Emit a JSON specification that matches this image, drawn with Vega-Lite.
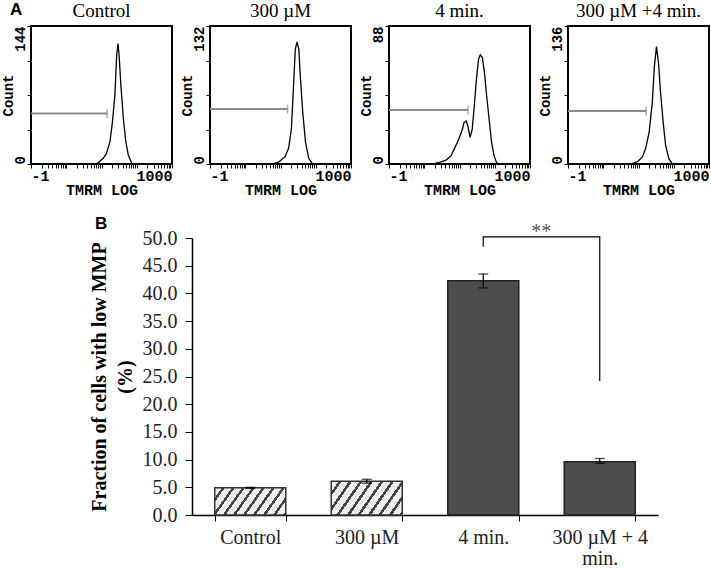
{
  "$schema": "https://vega.github.io/schema/vega-lite/v6.json",
  "background": "white",
  "padding": {"left": 0, "top": 0, "right": 0, "bottom": 0},
  "title": {"text": "A", "anchor": "start", "frame": "bounds", "offset": -18, "dx": 10, "font": "Liberation Sans", "fontSize": 17, "fontWeight": "bold", "color": "black"},
  "config": {"view": {"stroke": "black", "strokeWidth": 2}},
  "datasets": {
    "hist": [
      {"panel": "Control", "logFL": 1.86, "count": 0}, {"panel": "Control", "logFL": 2.05, "count": 5.9}, {"panel": "Control", "logFL": 2.14, "count": 11}, {"panel": "Control", "logFL": 2.24, "count": 23}, {"panel": "Control", "logFL": 2.31, "count": 44}, {"panel": "Control", "logFL": 2.38, "count": 72}, {"panel": "Control", "logFL": 2.43, "count": 113}, {"panel": "Control", "logFL": 2.47, "count": 125.6}, {"panel": "Control", "logFL": 2.5, "count": 113}, {"panel": "Control", "logFL": 2.55, "count": 82}, {"panel": "Control", "logFL": 2.62, "count": 47.5}, {"panel": "Control", "logFL": 2.69, "count": 23}, {"panel": "Control", "logFL": 2.76, "count": 9.4}, {"panel": "Control", "logFL": 2.86, "count": 0.7}, {"panel": "Control", "logFL": 3.0, "count": 0},
      {"panel": "300 µM", "logFL": 1.75, "count": 0}, {"panel": "300 µM", "logFL": 1.94, "count": 1.6}, {"panel": "300 µM", "logFL": 2.13, "count": 7}, {"panel": "300 µM", "logFL": 2.23, "count": 15}, {"panel": "300 µM", "logFL": 2.31, "count": 34}, {"panel": "300 µM", "logFL": 2.37, "count": 75}, {"panel": "300 µM", "logFL": 2.42, "count": 110}, {"panel": "300 µM", "logFL": 2.47, "count": 116.7}, {"panel": "300 µM", "logFL": 2.52, "count": 110}, {"panel": "300 µM", "logFL": 2.56, "count": 85}, {"panel": "300 µM", "logFL": 2.63, "count": 50}, {"panel": "300 µM", "logFL": 2.71, "count": 21}, {"panel": "300 µM", "logFL": 2.8, "count": 5.4}, {"panel": "300 µM", "logFL": 2.9, "count": 0.6}, {"panel": "300 µM", "logFL": 3.0, "count": 0},
      {"panel": "4 min.", "logFL": 1.25, "count": 0}, {"panel": "4 min.", "logFL": 1.43, "count": 1}, {"panel": "4 min.", "logFL": 1.62, "count": 2.5}, {"panel": "4 min.", "logFL": 1.76, "count": 5.3}, {"panel": "4 min.", "logFL": 1.85, "count": 9.5}, {"panel": "4 min.", "logFL": 1.94, "count": 13.8}, {"panel": "4 min.", "logFL": 2.0, "count": 17}, {"panel": "4 min.", "logFL": 2.08, "count": 22}, {"panel": "4 min.", "logFL": 2.13, "count": 26.5}, {"panel": "4 min.", "logFL": 2.19, "count": 27.4}, {"panel": "4 min.", "logFL": 2.24, "count": 24}, {"panel": "4 min.", "logFL": 2.3, "count": 17}, {"panel": "4 min.", "logFL": 2.36, "count": 22}, {"panel": "4 min.", "logFL": 2.42, "count": 37}, {"panel": "4 min.", "logFL": 2.48, "count": 54}, {"panel": "4 min.", "logFL": 2.54, "count": 67}, {"panel": "4 min.", "logFL": 2.59, "count": 69.6}, {"panel": "4 min.", "logFL": 2.65, "count": 67.9}, {"panel": "4 min.", "logFL": 2.71, "count": 58}, {"panel": "4 min.", "logFL": 2.77, "count": 43.5}, {"panel": "4 min.", "logFL": 2.84, "count": 28.6}, {"panel": "4 min.", "logFL": 2.91, "count": 13.8}, {"panel": "4 min.", "logFL": 2.98, "count": 5.3}, {"panel": "4 min.", "logFL": 3.05, "count": 1}, {"panel": "4 min.", "logFL": 3.11, "count": 0},
      {"panel": "300 µM +4 min.", "logFL": 1.78, "count": 0}, {"panel": "300 µM +4 min.", "logFL": 1.97, "count": 2.3}, {"panel": "300 µM +4 min.", "logFL": 2.11, "count": 7}, {"panel": "300 µM +4 min.", "logFL": 2.2, "count": 15}, {"panel": "300 µM +4 min.", "logFL": 2.3, "count": 31}, {"panel": "300 µM +4 min.", "logFL": 2.39, "count": 60}, {"panel": "300 µM +4 min.", "logFL": 2.45, "count": 96}, {"panel": "300 µM +4 min.", "logFL": 2.51, "count": 115.7}, {"panel": "300 µM +4 min.", "logFL": 2.57, "count": 99}, {"panel": "300 µM +4 min.", "logFL": 2.62, "count": 73}, {"panel": "300 µM +4 min.", "logFL": 2.7, "count": 41}, {"panel": "300 µM +4 min.", "logFL": 2.77, "count": 18}, {"panel": "300 µM +4 min.", "logFL": 2.86, "count": 5.5}, {"panel": "300 µM +4 min.", "logFL": 2.95, "count": 0.6}, {"panel": "300 µM +4 min.", "logFL": 3.04, "count": 0}
    ],
    "gates": [
      {"panel": "Control", "logFL": 0, "end": 2.16, "count": 52.7},
      {"panel": "300 µM", "logFL": 0, "end": 2.2, "count": 52.5},
      {"panel": "4 min.", "logFL": 0, "end": 2.24, "count": 34.4},
      {"panel": "300 µM +4 min.", "logFL": 0, "end": 2.22, "count": 52.2}
    ],
    "gateEnds": [
      {"panel": "Control", "logFL": 2.16, "count": 52.7},
      {"panel": "300 µM", "logFL": 2.2, "count": 52.5},
      {"panel": "4 min.", "logFL": 2.24, "count": 34.4},
      {"panel": "300 µM +4 min.", "logFL": 2.22, "count": 52.2}
    ],
    "bars": [
      {"group": "Control", "pct": 4.9},
      {"group": "300 µM", "pct": 6.1},
      {"group": "4 min.", "pct": 42.3},
      {"group": "300 µM + 4 min.", "pct": 9.6}
    ],
    "errors": [
      {"group": "Control", "pct": 4.8, "hi": 5.0},
      {"group": "300 µM", "pct": 5.75, "hi": 6.45},
      {"group": "4 min.", "pct": 41.0, "hi": 43.5},
      {"group": "300 µM + 4 min.", "pct": 9.3, "hi": 10.2}
    ],
    "caps": [
      {"group": "Control", "pct": 4.8}, {"group": "Control", "pct": 5.0},
      {"group": "300 µM", "pct": 5.75}, {"group": "300 µM", "pct": 6.45},
      {"group": "4 min.", "pct": 41.0}, {"group": "4 min.", "pct": 43.5},
      {"group": "300 µM + 4 min.", "pct": 9.3}, {"group": "300 µM + 4 min.", "pct": 10.2}
    ],
    "bracket": [
      {"group": "4 min.", "pct": 48.4, "step": 1},
      {"group": "4 min.", "pct": 50.2, "step": 2},
      {"group": "300 µM + 4 min.", "pct": 50.2, "step": 3},
      {"group": "300 µM + 4 min.", "pct": 24.2, "step": 4}
    ],
    "sig": [{"group": "4 min.", "pct": 50.0, "label": "**"}]
  },
  "vconcat": [
    {
      "hconcat": [
        {
          "width": 141, "height": 138,
          "title": {"text": "Control", "font": "Liberation Serif", "fontSize": 19, "fontWeight": "normal", "color": "black", "offset": 5},
          "encoding": {
            "x": {"field": "logFL", "type": "quantitative", "scale": {"domain": [0, 4], "nice": false},
              "axis": {"title": "TMRM LOG", "domain": false, "values": [0,0.301,0.477,0.602,0.699,0.778,0.845,0.903,0.954,1,1.301,1.477,1.602,1.699,1.778,1.845,1.903,1.954,2,2.301,2.477,2.602,2.699,2.778,2.845,2.903,2.954,3,3.301,3.477,3.602,3.699,3.778,3.845,3.903,3.954,4], "labelExpr": "datum.value == 0 ? '-1' : datum.value == 4 ? '1000' : ''", "labelFlush": true, "labelOverlap": false, "labelAngle": 0, "labelFont": "Liberation Mono", "labelFontWeight": "bold", "labelFontSize": 15, "labelColor": "black", "labelPadding": 0, "tickSize": 4, "tickColor": "black", "grid": false, "titleFont": "Liberation Mono", "titleFontWeight": "bold", "titleFontSize": 15, "titleColor": "black", "titlePadding": -1}},
            "y": {"field": "count", "type": "quantitative", "scale": {"domain": [0, 144], "nice": false},
              "axis": {"title": "Count", "domain": false, "values": [0, 36, 72, 108, 144], "labelExpr": "datum.value == 0 || datum.value == 144 ? datum.label : ''", "labelOverlap": false, "labelAngle": 270, "labelAlign": {"condition": {"test": "datum.value == 0", "value": "left"}, "value": "right"}, "labelBaseline": "bottom", "labelFont": "Liberation Mono", "labelFontWeight": "bold", "labelFontSize": 14, "labelColor": "black", "labelPadding": 0, "tickSize": 4, "tickColor": "black", "grid": false, "titleFont": "Liberation Mono", "titleFontWeight": "bold", "titleFontSize": 14, "titleColor": "black", "titlePadding": -2}}
          },
          "layer": [
            {"data": {"name": "hist"}, "transform": [{"filter": "datum.panel == 'Control'"}], "mark": {"type": "line", "color": "black", "strokeWidth": 1.3}},
            {"data": {"name": "gates"}, "transform": [{"filter": "datum.panel == 'Control'"}], "mark": {"type": "rule", "color": "#8a8a8a", "strokeWidth": 2}, "encoding": {"x2": {"field": "end"}}},
            {"data": {"name": "gateEnds"}, "transform": [{"filter": "datum.panel == 'Control'"}], "mark": {"type": "tick", "orient": "vertical", "color": "#8a8a8a", "size": 9, "thickness": 1.5}}
          ]
        },
        {
          "width": 141, "height": 138,
          "title": {"text": "300 µM", "font": "Liberation Serif", "fontSize": 19, "fontWeight": "normal", "color": "black", "offset": 5},
          "encoding": {
            "x": {"field": "logFL", "type": "quantitative", "scale": {"domain": [0, 4], "nice": false},
              "axis": {"title": "TMRM LOG", "domain": false, "values": [0,0.301,0.477,0.602,0.699,0.778,0.845,0.903,0.954,1,1.301,1.477,1.602,1.699,1.778,1.845,1.903,1.954,2,2.301,2.477,2.602,2.699,2.778,2.845,2.903,2.954,3,3.301,3.477,3.602,3.699,3.778,3.845,3.903,3.954,4], "labelExpr": "datum.value == 0 ? '-1' : datum.value == 4 ? '1000' : ''", "labelFlush": true, "labelOverlap": false, "labelAngle": 0, "labelFont": "Liberation Mono", "labelFontWeight": "bold", "labelFontSize": 15, "labelColor": "black", "labelPadding": 0, "tickSize": 4, "tickColor": "black", "grid": false, "titleFont": "Liberation Mono", "titleFontWeight": "bold", "titleFontSize": 15, "titleColor": "black", "titlePadding": -1}},
            "y": {"field": "count", "type": "quantitative", "scale": {"domain": [0, 132], "nice": false},
              "axis": {"title": "Count", "domain": false, "values": [0, 33, 66, 99, 132], "labelExpr": "datum.value == 0 || datum.value == 132 ? datum.label : ''", "labelOverlap": false, "labelAngle": 270, "labelAlign": {"condition": {"test": "datum.value == 0", "value": "left"}, "value": "right"}, "labelBaseline": "bottom", "labelFont": "Liberation Mono", "labelFontWeight": "bold", "labelFontSize": 14, "labelColor": "black", "labelPadding": 0, "tickSize": 4, "tickColor": "black", "grid": false, "titleFont": "Liberation Mono", "titleFontWeight": "bold", "titleFontSize": 14, "titleColor": "black", "titlePadding": -2}}
          },
          "layer": [
            {"data": {"name": "hist"}, "transform": [{"filter": "datum.panel == '300 µM'"}], "mark": {"type": "line", "color": "black", "strokeWidth": 1.3}},
            {"data": {"name": "gates"}, "transform": [{"filter": "datum.panel == '300 µM'"}], "mark": {"type": "rule", "color": "#8a8a8a", "strokeWidth": 2}, "encoding": {"x2": {"field": "end"}}},
            {"data": {"name": "gateEnds"}, "transform": [{"filter": "datum.panel == '300 µM'"}], "mark": {"type": "tick", "orient": "vertical", "color": "#8a8a8a", "size": 9, "thickness": 1.5}}
          ]
        },
        {
          "width": 141, "height": 138,
          "title": {"text": "4 min.", "font": "Liberation Serif", "fontSize": 19, "fontWeight": "normal", "color": "black", "offset": 5},
          "encoding": {
            "x": {"field": "logFL", "type": "quantitative", "scale": {"domain": [0, 4], "nice": false},
              "axis": {"title": "TMRM LOG", "domain": false, "values": [0,0.301,0.477,0.602,0.699,0.778,0.845,0.903,0.954,1,1.301,1.477,1.602,1.699,1.778,1.845,1.903,1.954,2,2.301,2.477,2.602,2.699,2.778,2.845,2.903,2.954,3,3.301,3.477,3.602,3.699,3.778,3.845,3.903,3.954,4], "labelExpr": "datum.value == 0 ? '-1' : datum.value == 4 ? '1000' : ''", "labelFlush": true, "labelOverlap": false, "labelAngle": 0, "labelFont": "Liberation Mono", "labelFontWeight": "bold", "labelFontSize": 15, "labelColor": "black", "labelPadding": 0, "tickSize": 4, "tickColor": "black", "grid": false, "titleFont": "Liberation Mono", "titleFontWeight": "bold", "titleFontSize": 15, "titleColor": "black", "titlePadding": -1}},
            "y": {"field": "count", "type": "quantitative", "scale": {"domain": [0, 88], "nice": false},
              "axis": {"title": "Count", "domain": false, "values": [0, 22, 44, 66, 88], "labelExpr": "datum.value == 0 || datum.value == 88 ? datum.label : ''", "labelOverlap": false, "labelAngle": 270, "labelAlign": {"condition": {"test": "datum.value == 0", "value": "left"}, "value": "right"}, "labelBaseline": "bottom", "labelFont": "Liberation Mono", "labelFontWeight": "bold", "labelFontSize": 14, "labelColor": "black", "labelPadding": 0, "tickSize": 4, "tickColor": "black", "grid": false, "titleFont": "Liberation Mono", "titleFontWeight": "bold", "titleFontSize": 14, "titleColor": "black", "titlePadding": -2}}
          },
          "layer": [
            {"data": {"name": "hist"}, "transform": [{"filter": "datum.panel == '4 min.'"}], "mark": {"type": "line", "color": "black", "strokeWidth": 1.3}},
            {"data": {"name": "gates"}, "transform": [{"filter": "datum.panel == '4 min.'"}], "mark": {"type": "rule", "color": "#8a8a8a", "strokeWidth": 2}, "encoding": {"x2": {"field": "end"}}},
            {"data": {"name": "gateEnds"}, "transform": [{"filter": "datum.panel == '4 min.'"}], "mark": {"type": "tick", "orient": "vertical", "color": "#8a8a8a", "size": 9, "thickness": 1.5}}
          ]
        },
        {
          "width": 141, "height": 138,
          "title": {"text": "300 µM +4 min.", "font": "Liberation Serif", "fontSize": 19, "fontWeight": "normal", "color": "black", "offset": 5},
          "encoding": {
            "x": {"field": "logFL", "type": "quantitative", "scale": {"domain": [0, 4], "nice": false},
              "axis": {"title": "TMRM LOG", "domain": false, "values": [0,0.301,0.477,0.602,0.699,0.778,0.845,0.903,0.954,1,1.301,1.477,1.602,1.699,1.778,1.845,1.903,1.954,2,2.301,2.477,2.602,2.699,2.778,2.845,2.903,2.954,3,3.301,3.477,3.602,3.699,3.778,3.845,3.903,3.954,4], "labelExpr": "datum.value == 0 ? '-1' : datum.value == 4 ? '1000' : ''", "labelFlush": true, "labelOverlap": false, "labelAngle": 0, "labelFont": "Liberation Mono", "labelFontWeight": "bold", "labelFontSize": 15, "labelColor": "black", "labelPadding": 0, "tickSize": 4, "tickColor": "black", "grid": false, "titleFont": "Liberation Mono", "titleFontWeight": "bold", "titleFontSize": 15, "titleColor": "black", "titlePadding": -1}},
            "y": {"field": "count", "type": "quantitative", "scale": {"domain": [0, 136], "nice": false},
              "axis": {"title": "Count", "domain": false, "values": [0, 34, 68, 102, 136], "labelExpr": "datum.value == 0 || datum.value == 136 ? datum.label : ''", "labelOverlap": false, "labelAngle": 270, "labelAlign": {"condition": {"test": "datum.value == 0", "value": "left"}, "value": "right"}, "labelBaseline": "bottom", "labelFont": "Liberation Mono", "labelFontWeight": "bold", "labelFontSize": 14, "labelColor": "black", "labelPadding": 0, "tickSize": 4, "tickColor": "black", "grid": false, "titleFont": "Liberation Mono", "titleFontWeight": "bold", "titleFontSize": 14, "titleColor": "black", "titlePadding": -2}}
          },
          "layer": [
            {"data": {"name": "hist"}, "transform": [{"filter": "datum.panel == '300 µM +4 min.'"}], "mark": {"type": "line", "color": "black", "strokeWidth": 1.3}},
            {"data": {"name": "gates"}, "transform": [{"filter": "datum.panel == '300 µM +4 min.'"}], "mark": {"type": "rule", "color": "#8a8a8a", "strokeWidth": 2}, "encoding": {"x2": {"field": "end"}}},
            {"data": {"name": "gateEnds"}, "transform": [{"filter": "datum.panel == '300 µM +4 min.'"}], "mark": {"type": "tick", "orient": "vertical", "color": "#8a8a8a", "size": 9, "thickness": 1.5}}
          ]
        }
      ],
      "spacing": 5
    },
    {
      "hconcat": [
        {"width": 57, "height": 10, "data": {"values": []}, "mark": "point", "view": {"stroke": null}},
        {
          "width": 466, "height": 277,
          "view": {"stroke": null},
          "title": {"text": "B", "anchor": "start", "frame": "bounds", "offset": -11, "dx": 6, "font": "Liberation Sans", "fontSize": 17, "fontWeight": "bold", "color": "black"},
          "encoding": {
            "x": {"field": "group", "type": "nominal", "sort": null,
              "scale": {"type": "band", "domain": ["Control", "300 µM", "4 min.", "300 µM + 4 min."], "paddingInner": 0.39, "paddingOuter": 0.195},
              "axis": {"title": null, "labelAngle": 0, "tickBand": "extent", "tickSize": 6, "tickColor": "black", "domainColor": "black", "domainWidth": 1.5, "labelPadding": 6, "labelFont": "Liberation Serif", "labelFontSize": 20, "labelColor": "#222", "labelLineHeight": 21, "labelExpr": "datum.value == '300 µM + 4 min.' ? ['300 µM + 4', 'min.'] : datum.value", "grid": false}},
            "y": {"field": "pct", "type": "quantitative", "scale": {"domain": [0, 50], "nice": false},
              "axis": {"title": ["Fraction of cells with low MMP", "(%)"], "titleFont": "Liberation Serif", "titleFontSize": 20, "titleFontWeight": "bold", "titleColor": "black", "titleLineHeight": 26, "titlePadding": 7, "values": [0, 5, 10, 15, 20, 25, 30, 35, 40, 45, 50], "labelOverlap": false, "format": ".1f", "labelFont": "Liberation Serif", "labelFontSize": 20, "labelColor": "#222", "labelPadding": 8, "tickSize": 7, "tickColor": "black", "domainColor": "black", "domainWidth": 1.5, "grid": false}}
          },
          "layer": [
            {"data": {"name": "bars"}, "transform": [{"filter": "datum.group == 'Control'"}],
             "mark": {"type": "bar", "stroke": "#333", "strokeWidth": 1.5,
               "fill": {"gradient": "linear", "x1": 0, "y1": 0, "x2": 1.184, "y2": 0.32, "stops": [
                 {"offset": 0, "color": "#eeeeee"}, {"offset": 0.0778, "color": "#eeeeee"}, {"offset": 0.0778, "color": "#444444"}, {"offset": 0.1111, "color": "#444444"},
                 {"offset": 0.1111, "color": "#eeeeee"}, {"offset": 0.1889, "color": "#eeeeee"}, {"offset": 0.1889, "color": "#444444"}, {"offset": 0.2222, "color": "#444444"},
                 {"offset": 0.2222, "color": "#eeeeee"}, {"offset": 0.3, "color": "#eeeeee"}, {"offset": 0.3, "color": "#444444"}, {"offset": 0.3333, "color": "#444444"},
                 {"offset": 0.3333, "color": "#eeeeee"}, {"offset": 0.4111, "color": "#eeeeee"}, {"offset": 0.4111, "color": "#444444"}, {"offset": 0.4444, "color": "#444444"},
                 {"offset": 0.4444, "color": "#eeeeee"}, {"offset": 0.5222, "color": "#eeeeee"}, {"offset": 0.5222, "color": "#444444"}, {"offset": 0.5556, "color": "#444444"},
                 {"offset": 0.5556, "color": "#eeeeee"}, {"offset": 0.6333, "color": "#eeeeee"}, {"offset": 0.6333, "color": "#444444"}, {"offset": 0.6667, "color": "#444444"},
                 {"offset": 0.6667, "color": "#eeeeee"}, {"offset": 0.7444, "color": "#eeeeee"}, {"offset": 0.7444, "color": "#444444"}, {"offset": 0.7778, "color": "#444444"},
                 {"offset": 0.7778, "color": "#eeeeee"}, {"offset": 0.8556, "color": "#eeeeee"}, {"offset": 0.8556, "color": "#444444"}, {"offset": 0.8889, "color": "#444444"},
                 {"offset": 0.8889, "color": "#eeeeee"}, {"offset": 0.9667, "color": "#eeeeee"}, {"offset": 0.9667, "color": "#444444"}, {"offset": 1, "color": "#444444"}]}}},
            {"data": {"name": "bars"}, "transform": [{"filter": "datum.group == '300 µM'"}],
             "mark": {"type": "bar", "stroke": "#333", "strokeWidth": 1.5,
               "fill": {"gradient": "linear", "x1": 0, "y1": 0, "x2": 1.2, "y2": 0.396, "stops": [
                 {"offset": 0, "color": "#eeeeee"}, {"offset": 0.0778, "color": "#eeeeee"}, {"offset": 0.0778, "color": "#444444"}, {"offset": 0.1111, "color": "#444444"},
                 {"offset": 0.1111, "color": "#eeeeee"}, {"offset": 0.1889, "color": "#eeeeee"}, {"offset": 0.1889, "color": "#444444"}, {"offset": 0.2222, "color": "#444444"},
                 {"offset": 0.2222, "color": "#eeeeee"}, {"offset": 0.3, "color": "#eeeeee"}, {"offset": 0.3, "color": "#444444"}, {"offset": 0.3333, "color": "#444444"},
                 {"offset": 0.3333, "color": "#eeeeee"}, {"offset": 0.4111, "color": "#eeeeee"}, {"offset": 0.4111, "color": "#444444"}, {"offset": 0.4444, "color": "#444444"},
                 {"offset": 0.4444, "color": "#eeeeee"}, {"offset": 0.5222, "color": "#eeeeee"}, {"offset": 0.5222, "color": "#444444"}, {"offset": 0.5556, "color": "#444444"},
                 {"offset": 0.5556, "color": "#eeeeee"}, {"offset": 0.6333, "color": "#eeeeee"}, {"offset": 0.6333, "color": "#444444"}, {"offset": 0.6667, "color": "#444444"},
                 {"offset": 0.6667, "color": "#eeeeee"}, {"offset": 0.7444, "color": "#eeeeee"}, {"offset": 0.7444, "color": "#444444"}, {"offset": 0.7778, "color": "#444444"},
                 {"offset": 0.7778, "color": "#eeeeee"}, {"offset": 0.8556, "color": "#eeeeee"}, {"offset": 0.8556, "color": "#444444"}, {"offset": 0.8889, "color": "#444444"},
                 {"offset": 0.8889, "color": "#eeeeee"}, {"offset": 0.9667, "color": "#eeeeee"}, {"offset": 0.9667, "color": "#444444"}, {"offset": 1, "color": "#444444"}]}}},
            {"data": {"name": "bars"}, "transform": [{"filter": "datum.group == '4 min.' || datum.group == '300 µM + 4 min.'"}],
             "mark": {"type": "bar", "stroke": "#222", "strokeWidth": 1.5, "fill": "#4d4d4d"}},
            {"data": {"name": "errors"}, "mark": {"type": "rule", "color": "black", "strokeWidth": 1.2}, "encoding": {"y2": {"field": "hi"}}},
            {"data": {"name": "caps"}, "mark": {"type": "tick", "orient": "horizontal", "color": "black", "size": 10, "thickness": 1.3}},
            {"data": {"name": "bracket"}, "mark": {"type": "line", "color": "black", "strokeWidth": 1.2}, "encoding": {"order": {"field": "step", "type": "quantitative"}}},
            {"data": {"name": "sig"}, "mark": {"type": "text", "font": "Liberation Serif", "fontSize": 20, "color": "#555", "baseline": "alphabetic", "dx": 58}, "encoding": {"text": {"field": "label"}}}
          ]
        }
      ],
      "spacing": 0
    }
  ],
  "spacing": 17,
  "align": "none"
}
